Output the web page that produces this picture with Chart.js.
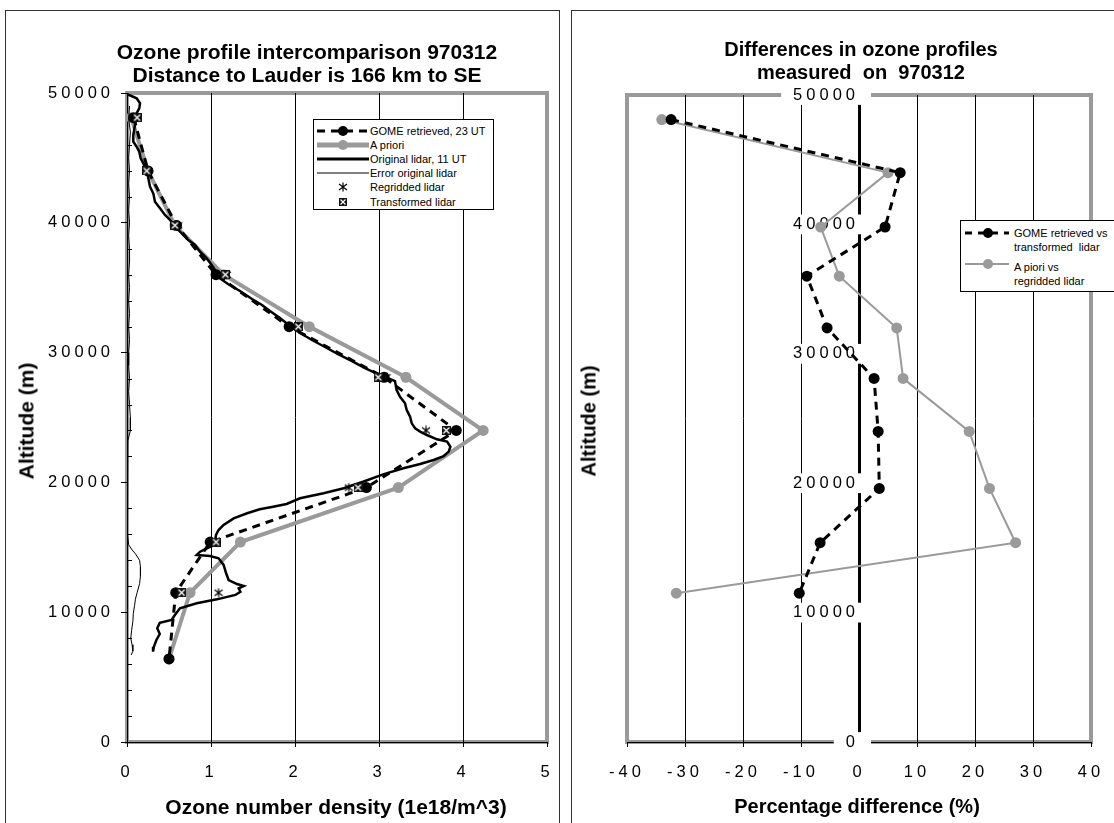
<!DOCTYPE html>
<html lang="en">
<head>
<meta charset="utf-8">
<title>Ozone profile intercomparison 970312</title>
<script src="https://cdn.jsdelivr.net/npm/chart.js@4.4.1/dist/chart.umd.min.js"></script>
<style>
  html, body { margin: 0; padding: 0; background: #fff; }
  body { position: relative; width: 1114px; height: 823px; overflow: hidden;
         font-family: "Liberation Sans", Arial, Helvetica, sans-serif; color: #000; }
  .frame { position: absolute; box-sizing: border-box; border: 1px solid #333; }
  canvas { position: absolute; top: 0; }
  .ttl { position: absolute; font-weight: bold; text-align: center; white-space: nowrap;
         transform: translateX(-50%); }
  .axt { position: absolute; font-weight: bold; line-height: 23px;
         white-space: nowrap; transform: translate(-50%, -50%); }
  .axt.v { transform: translate(-50%, -50%) rotate(-90deg); }
  .lg { position: absolute; background: #fff; border: 1px solid #000; box-sizing: border-box;
        font-size: 11px; }
  .lg .row { display: flex; align-items: center; height: 14.2px; white-space: nowrap; }
  .lg svg { flex: none; display: block; }
  .lg .it { position: absolute; }
  .lg .tx { position: absolute; line-height: 14.2px; white-space: pre; }
</style>
</head>
<body>
<div class="frame" style="left:5px;top:10px;width:555px;height:840px"></div>
<div class="frame" style="left:571px;top:10px;width:560px;height:840px"></div>

<canvas id="profile" width="571" height="823" style="left:0"></canvas>
<canvas id="difference" width="556" height="823" style="left:565px"></canvas>

<div class="ttl" style="left:307px;top:40px;font-size:21px;line-height:23px">Ozone profile intercomparison 970312<br>Distance to Lauder is 166 km to SE</div>
<div class="ttl" style="left:861px;top:38px;font-size:20px;line-height:23px">Differences in ozone profiles<br>measured&nbsp; on&nbsp; 970312</div>

<div class="axt v" style="left:26px;top:421px;font-size:21px">Altitude (m)</div>
<div class="axt" style="left:336px;top:806px;font-size:21px">Ozone number density (1e18/m^3)</div>
<div class="axt v" style="left:589px;top:421px;font-size:20px">Altitude (m)</div>
<div class="axt" style="left:857px;top:806px;font-size:20px">Percentage difference (%)</div>

<!-- legend of the profile panel -->
<div class="lg" style="left:313px;top:119px;width:181px;height:91px;padding-top:3.5px">
  <div class="row">
    <svg width="52" height="14" style="margin-left:3px"><line x1="0" y1="7" x2="52" y2="7" stroke="#000" stroke-width="3" stroke-dasharray="8 6"/><circle cx="26" cy="7" r="5" fill="#000"/></svg>
    <span style="margin-left:1px">GOME retrieved, 23 UT</span>
  </div>
  <div class="row">
    <svg width="52" height="14" style="margin-left:3px"><line x1="0" y1="7" x2="52" y2="7" stroke="#9a9a9a" stroke-width="5"/><circle cx="26" cy="7" r="5" fill="#9a9a9a"/></svg>
    <span style="margin-left:1px">A priori</span>
  </div>
  <div class="row">
    <svg width="52" height="14" style="margin-left:3px"><line x1="0" y1="7" x2="52" y2="7" stroke="#000" stroke-width="3"/></svg>
    <span style="margin-left:1px">Original lidar, 11 UT</span>
  </div>
  <div class="row">
    <svg width="52" height="14" style="margin-left:3px"><line x1="0" y1="7" x2="52" y2="7" stroke="#000" stroke-width="1"/></svg>
    <span style="margin-left:1px">Error original lidar</span>
  </div>
  <div class="row">
    <svg width="52" height="14" style="margin-left:3px"><path d="M26 2.5V11.5M22 4L30 10M30 4L22 10" stroke="#000" stroke-width="1.2" fill="none"/></svg>
    <span style="margin-left:1px">Regridded lidar</span>
  </div>
  <div class="row">
    <svg width="52" height="14" style="margin-left:3px"><rect x="22" y="3" width="8" height="8" fill="#111"/><path d="M23.5 4.5L28.5 9.5M28.5 4.5L23.5 9.5" stroke="#fff" stroke-width="1.2"/></svg>
    <span style="margin-left:1px">Transformed lidar</span>
  </div>
</div>

<!-- legend of the difference panel -->
<div class="lg" style="left:960px;top:220px;width:170px;height:72px">
  <svg class="it" width="46" height="14" style="left:4px;top:4.7px"><line x1="0" y1="7" x2="44" y2="7" stroke="#000" stroke-width="3" stroke-dasharray="7 6"/><circle cx="23" cy="7" r="5" fill="#000"/></svg>
  <div class="tx" style="left:53px;top:4.5px">GOME retrieved vs
transformed  lidar</div>
  <svg class="it" width="46" height="14" style="left:4px;top:36px"><line x1="0" y1="7" x2="44" y2="7" stroke="#9a9a9a" stroke-width="2"/><circle cx="23" cy="7" r="5" fill="#9a9a9a"/></svg>
  <div class="tx" style="left:53px;top:38.5px">A piori vs
regridded lidar</div>
</div>

<script>
// ---------- profile panel: ozone number density (1e18/m^3) against altitude (m) ----------
const profileAltitudes = [48100, 44000, 39800, 36000, 32000, 28100, 24000, 19600, 15400, 11500, 6400];
const gomeRetrieved    = [0.08, 0.25, 0.59, 1.06, 1.93, 3.06, 3.92, 2.85, 0.99, 0.58, 0.50];
const aPriori          = [0.05, 0.25, 0.57, 1.15, 2.17, 3.32, 4.24, 3.23, 1.35, 0.75, 0.50];

const lidarLevels      = [48100, 44000, 39800, 36000, 32000, 28100, 24000, 19600, 15400, 11500];
const regriddedLidar   = [0.08, 0.24, 0.61, 1.19, 2.04, 3.09, 3.56, 2.64, 1.06, 1.09];
const transformedLidar = [0.12, 0.235, 0.57, 1.17, 2.04, 2.99, 3.80, 2.75, 1.06, 0.65];

// original lidar profile, 11 UT
const lidarAltitudes = [
  49920, 49590, 49210, 48820, 48440, 48050, 47530, 46760, 46250, 45860,
  45480, 44970, 44580, 44010, 43430, 42780, 42270, 41630, 41120, 40600,
  40220, 39580, 39060, 38670, 38290, 37770, 37260, 36750, 36360, 35820,
  35280, 34750, 34130, 33670, 33200, 32670, 32050, 31510, 30970, 30430,
  29890, 29350, 28810, 28350, 28040, 27810, 27120, 26600, 26090, 25580,
  25060, 24550, 24170, 23910, 23650, 23320, 23140, 22750, 22370, 22030,
  21730, 21420, 21090, 20620, 20050, 19550, 19160, 18780, 18340, 18130,
  17930, 17620, 17230, 16720, 16330, 15950, 15560, 15100, 14660, 14410,
  14330, 14150, 13640, 13000, 12480, 12170, 12020, 11840, 11580, 11330,
  10990, 10690, 10300, 9780, 9400, 9190, 8760, 8320, 7860, 7340, 6960
];
const lidarDensity = [
  0.00, 0.115, 0.155, 0.146, 0.115, 0.107, 0.095, 0.075, 0.075, 0.115,
  0.146, 0.163, 0.194, 0.235, 0.254, 0.274, 0.313, 0.333, 0.393, 0.452,
  0.512, 0.592, 0.670, 0.730, 0.810, 0.869, 0.949, 1.008, 1.048, 1.083,
  1.202, 1.345, 1.488, 1.607, 1.702, 1.821, 1.940, 2.060, 2.202, 2.357,
  2.512, 2.679, 2.833, 2.988, 3.107, 3.19, 3.21, 3.25, 3.31, 3.33,
  3.37, 3.39, 3.43, 3.49, 3.57, 3.69, 3.81, 3.85, 3.83, 3.77,
  3.65, 3.49, 3.29, 3.05, 2.81, 2.58, 2.34, 2.06, 1.90, 1.74,
  1.58, 1.43, 1.27, 1.15, 1.09, 1.06, 1.05, 1.01, 0.87, 0.83,
  0.99, 1.09, 1.15, 1.18, 1.21, 1.31, 1.39, 1.33, 1.35, 1.29,
  1.07, 0.83, 0.63, 0.57, 0.53, 0.39, 0.36, 0.39, 0.35, 0.32, 0.31
];

// error of the original lidar profile
const errorAltitudes = [
  49000, 48000, 47000, 46000, 45000, 44000, 43000, 42000, 41000, 40000,
  39000, 38000, 37000, 36000, 35000, 34000, 33000, 32000, 31000, 30000,
  29000, 28000, 27000, 26000, 25000, 24000, 23200, 22000, 21000, 20000,
  19000, 18000, 17000, 16000, 15200, 14800, 14500, 14000, 13500, 12800,
  12200, 11500, 11000, 10500, 9900, 9300, 8600, 8000, 7500, 7000, 6700
];
const errorDensity = [
  0.03, 0.02, 0.04, 0.03, 0.02, 0.03, 0.02, 0.03, 0.02, 0.03,
  0.02, 0.03, 0.03, 0.02, 0.03, 0.02, 0.03, 0.02, 0.03, 0.02,
  0.02, 0.03, 0.02, 0.03, 0.04, 0.04, 0.01, 0.00, 0.01, 0.01,
  0.00, 0.01, 0.00, 0.01, 0.02, 0.06, 0.10, 0.15, 0.16, 0.16,
  0.15, 0.12, 0.10, 0.09, 0.075, 0.07, 0.055, 0.045, 0.06, 0.07, 0.05
];

const densityTicks       = [0, 1, 2, 3, 4, 5];
const altitudeTicks      = [0, 10000, 20000, 30000, 40000, 50000];
const altitudeMinorTicks = [2000, 4000, 6000, 8000, 12000, 14000, 16000, 18000, 22000, 24000,
                            26000, 28000, 32000, 34000, 36000, 38000, 42000, 44000, 46000, 48000];

// ---------- difference panel: percentage difference against altitude ----------
const diffAltitudes      = [48100, 44000, 39800, 36000, 32000, 28100, 24000, 19600, 15400, 11500];
const gomeVsTransformed  = [-32.4, 7.1, 4.5, -9.0, -5.5, 2.6, 3.3, 3.5, -6.7, -10.3];
const aprioriVsRegridded = [-34.0, 5.0, -6.6, -3.4, 6.5, 7.6, 19.0, 22.5, 27.0, -31.5];
const percentTicks       = [-40, -30, -20, -10, 0, 10, 20, 30, 40];

// ---------- shared styling ----------
const FAMILY = "'Liberation Sans', Arial, Helvetica, sans-serif";
const TICK_FONT = { family: FAMILY, size: 16.5 };
const TICK_SPACING = '4px';
const GREY = '#9a9a9a';
const CLEAR = 'rgba(0,0,0,0)';

const xy = (xs, ys) => xs.map((x, i) => ({ x, y: ys[i] }));
const fixedTicks = values => scale => { scale.ticks = values.map(v => ({ value: v })); };

// marker: asterisk (regridded lidar)
function asteriskMarker() {
  const c = document.createElement('canvas');
  c.width = 10; c.height = 10;
  const g = c.getContext('2d');
  g.strokeStyle = '#000'; g.lineWidth = 1.2;
  g.beginPath();
  g.moveTo(5, 0.5); g.lineTo(5, 9.5);
  g.moveTo(1, 2); g.lineTo(9, 8);
  g.moveTo(9, 2); g.lineTo(1, 8);
  g.stroke();
  return c;
}
// marker: dark square with a light cross (transformed lidar)
function boxCrossMarker() {
  const c = document.createElement('canvas');
  c.width = 9; c.height = 9;
  const g = c.getContext('2d');
  g.fillStyle = '#111'; g.fillRect(0, 0, 9, 9);
  g.strokeStyle = '#fff'; g.lineWidth = 1.3;
  g.beginPath();
  g.moveTo(1.5, 1.5); g.lineTo(7.5, 7.5);
  g.moveTo(7.5, 1.5); g.lineTo(1.5, 7.5);
  g.stroke();
  return c;
}

// wide letter spacing for the tick numbers only
const tickSpacing = {
  id: 'tickSpacing',
  beforeUpdate(chart) { chart.ctx.letterSpacing = TICK_SPACING; },
  beforeLayout(chart) { chart.ctx.letterSpacing = TICK_SPACING; },
  beforeDraw(chart) { chart.ctx.letterSpacing = TICK_SPACING; },
  beforeDatasetsDraw(chart) { chart.ctx.letterSpacing = '0px'; }
};

// grey plot-area border, drawn underneath axes and grid
const plotFrame = {
  id: 'plotFrame',
  beforeDraw(chart) {
    const { ctx, chartArea: a } = chart;
    ctx.save();
    ctx.strokeStyle = GREY;
    ctx.lineWidth = 4;
    ctx.strokeRect(a.left, a.top, a.right - a.left, a.bottom - a.top);
    ctx.restore();
  }
};

// short minor tick marks on the inner side of the altitude axis
const minorTicks = {
  id: 'minorTicks',
  beforeDatasetsDraw(chart, args, opts) {
    if (!opts.values) return;
    const { ctx, chartArea: a } = chart;
    const y = chart.scales.y;
    ctx.save();
    ctx.strokeStyle = '#000';
    ctx.lineWidth = 1;
    ctx.beginPath();
    opts.values.forEach(v => {
      const py = Math.round(y.getPixelForValue(v)) + 0.5;
      ctx.moveTo(a.left, py);
      ctx.lineTo(a.left + 5, py);
    });
    ctx.stroke();
    ctx.restore();
  }
};

const baseOptions = {
  responsive: false,
  animation: false,
  devicePixelRatio: 1,
  events: [],
  plugins: { legend: { display: false }, tooltip: { enabled: false }, title: { display: false } }
};

new Chart(document.getElementById('profile'), {
  type: 'scatter',
  data: {
    datasets: [
      { label: 'Transformed lidar', data: xy(transformedLidar, lidarLevels), showLine: false,
        pointStyle: boxCrossMarker(), pointRadius: 5, order: 0 },
      { label: 'Regridded lidar', data: xy(regriddedLidar, lidarLevels), showLine: false,
        pointStyle: asteriskMarker(), pointRadius: 5, order: 1 },
      { label: 'GOME retrieved, 23 UT', data: xy(gomeRetrieved, profileAltitudes), showLine: true,
        borderColor: '#000', borderWidth: 3, borderDash: [8, 6],
        pointRadius: 5.5, pointBackgroundColor: '#000', pointBorderWidth: 0, order: 2 },
      { label: 'Original lidar, 11 UT', data: xy(lidarDensity, lidarAltitudes), showLine: true,
        borderColor: '#000', borderWidth: 2.5, pointRadius: 0, order: 3 },
      { label: 'Error original lidar', data: xy(errorDensity, errorAltitudes), showLine: true,
        borderColor: '#000', borderWidth: 1, pointRadius: 0, order: 4 },
      { label: 'A priori', data: xy(aPriori, profileAltitudes), showLine: true,
        borderColor: GREY, borderWidth: 4,
        pointRadius: 5.5, pointBackgroundColor: GREY, pointBorderWidth: 0, order: 5 }
    ]
  },
  options: {
    ...baseOptions,
    layout: { padding: { left: 37, top: 93, right: 24, bottom: 30 } },
    plugins: { ...baseOptions.plugins, minorTicks: { values: altitudeMinorTicks } },
    scales: {
      x: {
        type: 'linear', position: 'bottom', min: 0, max: 5,
        afterBuildTicks: fixedTicks(densityTicks),
        afterFit: s => { s.height = 51; },
        ticks: { font: TICK_FONT, color: '#000', padding: 16, maxRotation: 0 },
        grid: {
          color: c => (c.tick && c.tick.value > 0 && c.tick.value < 5) ? '#000' : CLEAR,
          lineWidth: 1, tickColor: '#000', tickLength: 5
        },
        border: { display: true, color: '#000', width: 1 }
      },
      y: {
        type: 'linear', position: 'left', min: 0, max: 50000,
        afterBuildTicks: fixedTicks(altitudeTicks),
        afterFit: s => { s.width = 90; },
        ticks: { font: TICK_FONT, color: '#000', padding: 7, callback: v => String(v) },
        grid: { drawOnChartArea: false, tickColor: '#000', tickLength: 6 },
        border: { display: true, color: '#000', width: 1 }
      }
    }
  },
  plugins: [tickSpacing, plotFrame, minorTicks]
});

new Chart(document.getElementById('difference'), {
  type: 'scatter',
  data: {
    datasets: [
      { label: 'GOME retrieved vs transformed lidar', data: xy(gomeVsTransformed, diffAltitudes),
        showLine: true, borderColor: '#000', borderWidth: 3, borderDash: [8, 6],
        pointRadius: 5.5, pointBackgroundColor: '#000', pointBorderWidth: 0, order: 0 },
      { label: 'A piori vs regridded lidar', data: xy(aprioriVsRegridded, diffAltitudes),
        showLine: true, borderColor: GREY, borderWidth: 2,
        pointRadius: 5.5, pointBackgroundColor: GREY, pointBorderWidth: 0, order: 1 }
    ]
  },
  options: {
    ...baseOptions,
    layout: { padding: { left: 62, top: 95, right: 30, bottom: 30 } },
    scales: {
      x: {
        type: 'linear', position: 'bottom', min: -40, max: 40,
        afterBuildTicks: fixedTicks(percentTicks),
        afterFit: s => { s.height = 51; },
        ticks: { font: TICK_FONT, color: '#000', padding: 16, maxRotation: 0 },
        grid: {
          color: c => (c.tick && Math.abs(c.tick.value) < 40 && c.tick.value !== 0) ? '#000' : CLEAR,
          lineWidth: 1, tickColor: '#000', tickLength: 5
        },
        border: { display: true, color: '#000', width: 1 }
      },
      y: {
        type: 'linear', position: { x: 0 }, min: 0, max: 50000,
        afterBuildTicks: fixedTicks(altitudeTicks),
        ticks: {
          font: TICK_FONT, color: '#000', padding: 8, callback: v => String(v),
          showLabelBackdrop: true, backdropColor: '#fff',
          backdropPadding: { left: 12, right: 12, top: 0, bottom: 0 }
        },
        grid: { drawOnChartArea: false, tickColor: '#000', tickLength: 5 },
        border: { display: true, color: '#000', width: 3 }
      }
    }
  },
  plugins: [tickSpacing, plotFrame]
});
</script>
</body>
</html>
